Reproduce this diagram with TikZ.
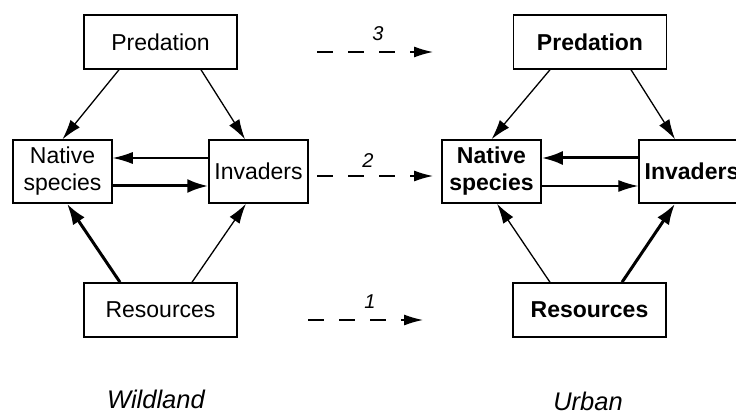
\documentclass[tikz,border=0pt]{standalone}
\usepackage{fontspec}
\setmainfont{Liberation Sans}
\usetikzlibrary{arrows.meta}

\tikzset{
  box/.style={draw, line width=1.5pt, inner sep=0pt, align=center,
    minimum width=153pt, minimum height=54pt, font=\fontsize{23}{27}\selectfont},
  speciesbox/.style={box, minimum width=99pt, minimum height=63pt},
  urbanbox/.style={font=\fontsize{23}{27}\selectfont\bfseries},
  flow/.style={line width=1.3pt, -{Latex[length=20pt,width=12pt]}},
  strongflow/.style={line width=3pt, -{Latex[length=21pt,width=14pt]}},
  transfer/.style={line width=1.3pt, dash pattern=on 16pt off 15pt,
    -{Latex[length=19pt,width=11pt]}},
  num/.style={inner sep=0pt, font=\fontsize{20}{22}\selectfont\itshape},
  setting/.style={inner sep=0pt, font=\fontsize{25.5}{28}\selectfont\itshape}
}

\begin{document}
\begin{tikzpicture}[x=1pt,y=-1pt]
    \path[use as bounding box, clip] (0,0) rectangle (736,414);

    % wildland
    \node[box] (predL) at (160.5,42) {Predation};
    \node[speciesbox] (natL) at (62.5,171.5) {Native\\species};
    \node[speciesbox] (invL) at (258.5,171.5) {Invaders};
    \node[box] (resL) at (160.5,310) {Resources};
    \node[setting] (wild) at (156,399) {Wildland};

    % urban
    \node[box,urbanbox] (predR) at (590,42) {Predation};
    \node[speciesbox,urbanbox] (natR) at (491.5,171.5) {Native\\species};
    \node[speciesbox,urbanbox,minimum width=106pt] (invR) at (692,171.5) {Invaders};
    \node[box,urbanbox] (resR) at (589.5,310) {Resources};
    \node[setting] (urban) at (588,401) {Urban};

    \draw[flow] ([xshift=-41.5pt]predL.south) -- (natL.north);
    \draw[flow] ([xshift=40.5pt]predL.south) -- ([xshift=-13.5pt]invL.north);
    \draw[flow] ([yshift=13.5pt]invL.west) -- ([yshift=13.5pt]natL.east);
    \draw[strongflow] ([yshift=-14.5pt]natL.east) -- ([yshift=-14.5pt]invL.west);
    \draw[strongflow] ([xshift=-40.5pt]resL.north) -- ([xshift=4.5pt]natL.south);
    \draw[flow] ([xshift=31.5pt]resL.north) -- ([xshift=-12.5pt]invL.south);

    \draw[flow] ([xshift=-40pt]predR.south) -- (natR.north);
    \draw[flow] ([xshift=41pt]predR.south) -- ([xshift=-17pt]invR.north);
    \draw[strongflow] ([yshift=13.5pt]invR.west) -- ([yshift=13.5pt]natR.east);
    \draw[flow] ([yshift=-14.5pt]natR.east) -- ([yshift=-14.5pt]invR.west);
    \draw[flow] ([xshift=-39.5pt]resR.north) -- ([xshift=5.5pt]natR.south);
    \draw[strongflow] ([xshift=32.5pt]resR.north) -- ([xshift=-17pt]invR.south);

    % changes
    \coordinate (a3) at (317,52);
    \coordinate (b3) at (433,52);
    \coordinate (a2) at (317,176);
    \coordinate (b2) at (433,176);
    \coordinate (a1) at (308,320);
    \coordinate (b1) at (423,320);
    \draw[transfer] (a3) -- (b3);
    \draw[transfer] (a2) -- (b2);
    \draw[transfer] (a1) -- (b1);
    \node[num] (n3) at (378,34) {3};
    \node[num] (n2) at (368,161) {2};
    \node[num] (n1) at (370,302) {1};

\end{tikzpicture}
\end{document}
